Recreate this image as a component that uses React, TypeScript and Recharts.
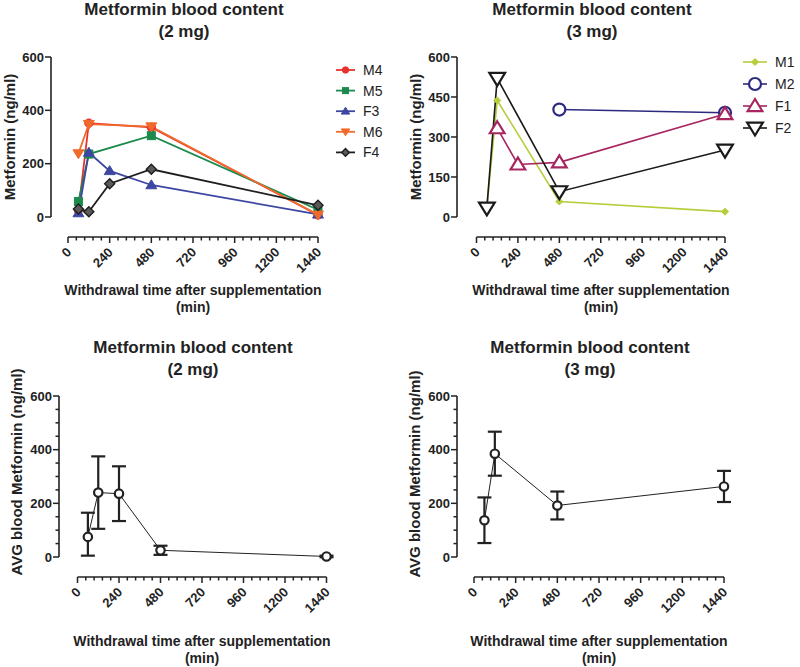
import React from 'react';
import { LineChart, Line, XAxis, YAxis, ReferenceLine, ErrorBar } from 'recharts';

const FONT = '"Liberation Sans", Arial, Helvetica, sans-serif';
const INK = '#222222';
const TS = 6;
const TM = 2;
const PAD_R = 14;

// axis ticks
const X_MAJOR = [0, 240, 480, 720, 960, 1200, 1440];
const X_ALL = Array.from({ length: 31 }, (_, i) => i * 48);
const Y_2MG = [0, 200, 400, 600];
const Y_3MG = [0, 150, 300, 450, 600];
const Y_AVG = [0, 200, 400, 600];
const Y_AVG_ALL = Array.from({ length: 13 }, (_, i) => i * 50);

// 2 mg, single animals: [time (min), ng/ml]
const M4 = [[60, 25], [120, 352], [480, 336], [1440, 8]];
const M5 = [[60, 58], [120, 236], [480, 305], [1440, 27]];
const F3 = [[60, 15], [120, 242], [240, 173], [480, 120], [1440, 10]];
const M6 = [[60, 238], [120, 348], [480, 339], [1440, 8]];
const F4 = [[60, 30], [120, 20], [240, 125], [480, 179], [1440, 44]];

// 3 mg, single animals
const M1 = [[60, 35], [120, 437], [480, 58], [1440, 20]];
const M2 = [[480, 403], [1440, 391]];
const F1 = [[120, 333], [240, 197], [480, 205], [1440, 386]];
const F2 = [[60, 34], [120, 520], [480, 95], [1440, 251]];

// averages with error (lower, upper)
const AVG2_T = [60, 120, 240, 480, 1440];
const AVG2_V = [75, 240, 236, 25, 2];
const AVG2_LO = [70, 135, 102, 17, 3];
const AVG2_HI = [90, 135, 102, 17, 3];

const AVG3_T = [60, 120, 480, 1440];
const AVG3_V = [137, 385, 192, 263];
const AVG3_ERR = [85, 82, 52, 58];

type Pt = number[];
type Series = { name: string; pts: Pt[]; color: string; shape: string; size: number; fill: string; sw: number; lw: number; legendSize: number };

const SERIES_2MG: Series[] = [
  { name: 'M4', pts: M4, color: '#e8322e', shape: 'circle', size: 4.2, fill: '#e8322e', sw: 1, lw: 1.8, legendSize: 3.2 },
  { name: 'M5', pts: M5, color: '#1d8a4d', shape: 'square', size: 4, fill: '#1d8a4d', sw: 1, lw: 1.8, legendSize: 3 },
  { name: 'F3', pts: F3, color: '#3d47a2', shape: 'up', size: 5.2, fill: '#3d47a2', sw: 1, lw: 1.8, legendSize: 4 },
  { name: 'M6', pts: M6, color: '#f06a2c', shape: 'down', size: 5.2, fill: '#f06a2c', sw: 1, lw: 1.8, legendSize: 4 },
  { name: 'F4', pts: F4, color: '#1e1e1e', shape: 'diamond', size: 5, fill: '#5a5a5a', sw: 1.4, lw: 1.8, legendSize: 3.8 },
];

const SERIES_3MG: Series[] = [
  { name: 'M1', pts: M1, color: '#b8cc3c', shape: 'diamond', size: 3.5, fill: '#b8cc3c', sw: 1, lw: 1.6, legendSize: 3.5 },
  { name: 'M2', pts: M2, color: '#2c2a80', shape: 'circle', size: 6, fill: '#ffffff', sw: 2.2, lw: 1.6, legendSize: 6 },
  { name: 'F1', pts: F1, color: '#a82660', shape: 'up', size: 7, fill: '#ffffff', sw: 2.2, lw: 1.6, legendSize: 7 },
  { name: 'F2', pts: F2, color: '#1a1a1a', shape: 'down', size: 7.5, fill: '#ffffff', sw: 2.2, lw: 1.6, legendSize: 7.5 },
];

const avg2Rows = AVG2_T.map((t, i) => ({ t, v: AVG2_V[i], err: [AVG2_LO[i], AVG2_HI[i]] }));
const avg3Rows = AVG3_T.map((t, i) => ({ t, v: AVG3_V[i], err: [AVG3_ERR[i], AVG3_ERR[i]] }));

const Marker = ({ shape, cx, cy, size, stroke, fill, sw }: any) => {
  const s = size;
  if (cx == null || cy == null) return null;
  const common = { stroke, fill, strokeWidth: sw, strokeLinejoin: 'miter' as const };
  switch (shape) {
    case 'circle':
      return <circle cx={cx} cy={cy} r={s} {...common} />;
    case 'square':
      return <rect x={cx - s} y={cy - s} width={2 * s} height={2 * s} {...common} />;
    case 'up':
      return <path d={`M${cx},${cy - s}L${cx + s * 1.05},${cy + s * 0.72}L${cx - s * 1.05},${cy + s * 0.72}Z`} {...common} />;
    case 'down':
      return <path d={`M${cx},${cy + s}L${cx + s * 1.05},${cy - s * 0.72}L${cx - s * 1.05},${cy - s * 0.72}Z`} {...common} />;
    default:
      return <path d={`M${cx},${cy - s}L${cx + s},${cy}L${cx},${cy + s}L${cx - s},${cy}Z`} {...common} />;
  }
};

const XTick = (props: any) => {
  const { x, y, payload } = props;
  const v = payload.value;
  const major = X_MAJOR.includes(v);
  const ay = y - TS - TM;
  const lx = x + 4;
  const ly = ay + 16;
  return (
    <g>
      <line x1={x} x2={x} y1={ay} y2={ay + (major ? 6 : 3.5)} stroke={INK} strokeWidth={1.5} />
      {major && (
        <text x={lx} y={ly} transform={`rotate(-45 ${lx} ${ly})`} textAnchor="end" fontFamily={FONT} fontWeight="bold" fontSize={13} fill={INK}>
          {v}
        </text>
      )}
    </g>
  );
};

const makeYTick = (major: number[]) => (props: any) => {
  const { x, y, payload } = props;
  const v = payload.value;
  const isMajor = major.includes(v);
  const ax = x + TS + TM;
  return (
    <g>
      <line x1={ax - (isMajor ? 6 : 3.5)} x2={ax} y1={y} y2={y} stroke={INK} strokeWidth={1.5} />
      {isMajor && (
        <text x={ax - 7} y={y + 4.5} textAnchor="end" fontFamily={FONT} fontWeight="bold" fontSize={13} fill={INK}>
          {v}
        </text>
      )}
    </g>
  );
};

type Geo = { left: number; top: number; axisX: number; zeroX: number; endX: number; topY: number; zeroY: number; baseY: number };

const W = 400;
const H = 330;
const YW = 40;
const XH = 30;

const Panel = ({ geo, yMajor, yAll, children }: { geo: Geo; yMajor: number[]; yAll: number[]; children: React.ReactNode }) => {
  const span = geo.endX - geo.zeroX;
  const xMin = -((geo.zeroX - geo.axisX) / span) * 1440;
  const xMax = 1440 + (PAD_R / span) * 1440;
  const yMin = -((geo.baseY - geo.zeroY) / (geo.zeroY - geo.topY)) * 600;
  const margin = {
    top: geo.topY - geo.top,
    right: geo.left + W - geo.endX - PAD_R,
    bottom: geo.top + H - geo.baseY - XH,
    left: geo.axisX - geo.left - YW,
  };
  return (
    <div style={{ position: 'absolute', left: geo.left, top: geo.top, width: W, height: H }}>
      <LineChart width={W} height={H} margin={margin}>
        <XAxis type="number" dataKey="t" domain={[xMin, xMax]} ticks={X_ALL} interval={0} height={XH}
          axisLine={false} tickLine={false} tickSize={TS} tickMargin={TM} tick={XTick} allowDataOverflow />
        <YAxis type="number" domain={[yMin, 600]} ticks={yAll} interval={0} width={YW}
          axisLine={false} tickLine={false} tickSize={TS} tickMargin={TM} tick={makeYTick(yMajor)} allowDataOverflow />
        <ReferenceLine segment={[{ x: xMin, y: 0 }, { x: xMin, y: 600 }]} stroke={INK} strokeWidth={1.6} ifOverflow="visible" />
        <ReferenceLine segment={[{ x: 0, y: yMin }, { x: 1440, y: yMin }]} stroke={INK} strokeWidth={1.6} ifOverflow="visible" />
        {children}
      </LineChart>
    </div>
  );
};

const seriesLines = (list: Series[]) =>
  list.map((s) => (
    <Line
      key={s.name}
      data={s.pts.map(([t, v]) => ({ t, v }))}
      dataKey="v"
      type="linear"
      stroke={s.color}
      strokeWidth={s.lw}
      isAnimationActive={false}
      activeDot={false}
      dot={(p: any) => (
        <Marker key={`${s.name}-${p.index}`} shape={s.shape} cx={p.cx} cy={p.cy} size={s.size} stroke={s.color} fill={s.fill} sw={s.sw} />
      )}
    />
  ));

const avgLine = (rows: any[]) => (
  <Line
    data={rows}
    dataKey="v"
    type="linear"
    stroke={INK}
    strokeWidth={1}
    isAnimationActive={false}
    activeDot={false}
    dot={(p: any) => <Marker key={`a-${p.index}`} shape="circle" cx={p.cx} cy={p.cy} size={4.2} stroke={INK} fill="#ffffff" sw={2.2} />}
  >
    <ErrorBar dataKey="err" width={7} strokeWidth={2.2} stroke={INK} direction="y" />
  </Line>
);

const GEO_TL: Geo = { left: 0, top: 0, axisX: 51, zeroX: 68, endX: 318, topY: 57, zeroY: 217, baseY: 237 };
const GEO_TR: Geo = { left: 400, top: 0, axisX: 457, zeroX: 476.5, endX: 725, topY: 57, zeroY: 217, baseY: 237 };
const GEO_BL: Geo = { left: 0, top: 330, axisX: 59, zeroX: 77.5, endX: 326.5, topY: 396, zeroY: 557, baseY: 577 };
const GEO_BR: Geo = { left: 400, top: 330, axisX: 457, zeroX: 474, endX: 724, topY: 396, zeroY: 557, baseY: 577 };

const Title = ({ cx, y, dose }: { cx: number; y: number; dose: string }) => (
  <text textAnchor="middle" fontFamily={FONT} fontWeight="bold" fontSize={17} fill={INK}>
    <tspan x={cx} y={y}>Metformin blood content</tspan>
    <tspan x={cx} y={y + 21.5}>{dose}</tspan>
  </text>
);

const XTitle = ({ cx, y }: { cx: number; y: number }) => (
  <text textAnchor="middle" fontFamily={FONT} fontWeight="bold" fontSize={14} fill={INK}>
    <tspan x={cx} y={y}>Withdrawal time after supplementation</tspan>
    <tspan x={cx} y={y + 17}>(min)</tspan>
  </text>
);

const YTitle = ({ x, cy, label }: { x: number; cy: number; label: string }) => (
  <text x={x} y={cy} transform={`rotate(-90 ${x} ${cy})`} textAnchor="middle" fontFamily={FONT} fontWeight="bold" fontSize={15} fill={INK}>
    {label}
  </text>
);

const Legend = ({ list, x, y, step, len }: { list: Series[]; x: number; y: number; step: number; len: number }) => (
  <g>
    {list.map((s, i) => {
      const yy = y + i * step;
      return (
        <g key={s.name}>
          <line x1={x} x2={x + len} y1={yy} y2={yy} stroke={s.color} strokeWidth={s.lw} />
          <Marker shape={s.shape} cx={x + len / 2} cy={yy} size={s.legendSize} stroke={s.color} fill={s.fill} sw={s.sw} />
          <text x={x + len + 8} y={yy + 5} fontFamily={FONT} fontSize={14} fill={INK}>
            {s.name}
          </text>
        </g>
      );
    })}
  </g>
);

export default function App() {
  return (
    <div style={{ position: 'absolute', left: 0, top: 0, width: 800, height: 667, background: '#ffffff', overflow: 'hidden' }}>
      <Panel geo={GEO_TL} yMajor={Y_2MG} yAll={Y_2MG}>
        {seriesLines(SERIES_2MG)}
      </Panel>
      <Panel geo={GEO_TR} yMajor={Y_3MG} yAll={Y_3MG}>
        {seriesLines(SERIES_3MG)}
      </Panel>
      <Panel geo={GEO_BL} yMajor={Y_AVG} yAll={Y_AVG_ALL}>
        {avgLine(avg2Rows)}
      </Panel>
      <Panel geo={GEO_BR} yMajor={Y_AVG} yAll={Y_AVG_ALL}>
        {avgLine(avg3Rows)}
      </Panel>
      <svg width={800} height={667} style={{ position: 'absolute', left: 0, top: 0, pointerEvents: 'none' }}>
        <Title cx={184} y={15} dose="(2 mg)" />
        <Title cx={592} y={15} dose="(3 mg)" />
        <Title cx={193} y={353} dose="(2 mg)" />
        <Title cx={590} y={353} dose="(3 mg)" />
        <XTitle cx={193} y={295} />
        <XTitle cx={601} y={295} />
        <XTitle cx={202} y={646} />
        <XTitle cx={599} y={646} />
        <YTitle x={14.5} cy={137} label="Metformin (ng/ml)" />
        <YTitle x={421} cy={137} label="Metformin (ng/ml)" />
        <YTitle x={21.5} cy={472} label="AVG blood Metformin (ng/ml)" />
        <YTitle x={420} cy={474} label="AVG blood Metformin (ng/ml)" />
        <Legend list={SERIES_2MG} x={336} y={70} step={20.6} len={19} />
        <Legend list={SERIES_3MG} x={743} y={62} step={22} len={24} />
      </svg>
    </div>
  );
}
